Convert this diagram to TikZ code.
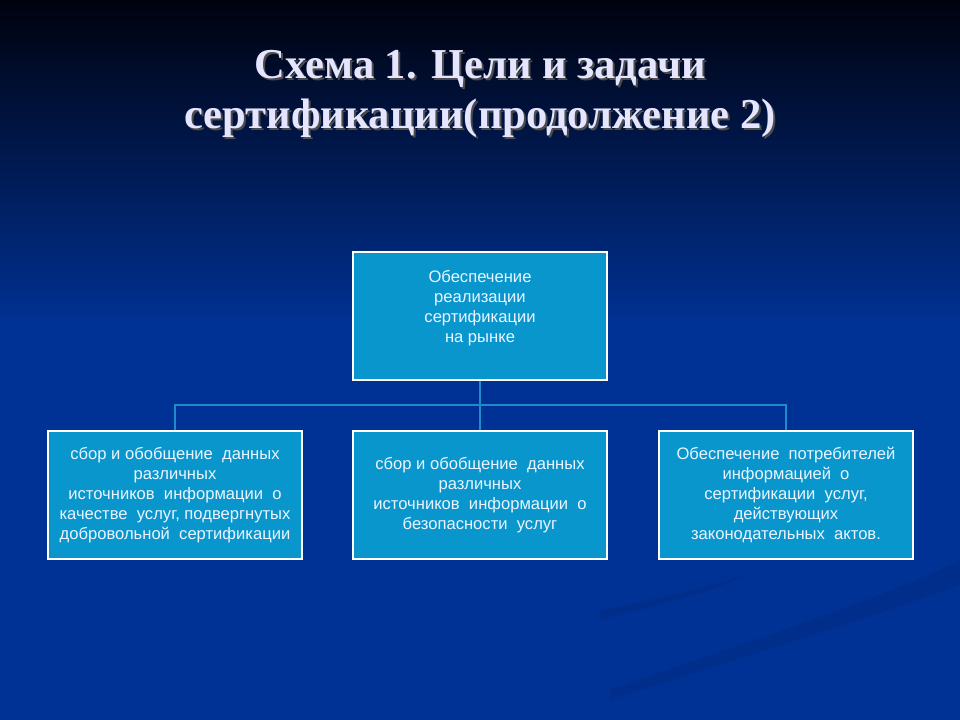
\documentclass[tikz,border=0pt]{standalone}
\usepackage{fontspec}
\setmainfont{Liberation Sans}
\newfontfamily\titlefont{Liberation Serif}
\usepackage{xcolor}
\usetikzlibrary{positioning,calc}

\definecolor{slidetop}{RGB}{0,2,14}
\definecolor{slideblue}{RGB}{0,50,150}
\definecolor{boxfill}{RGB}{8,150,204}
\definecolor{linkblue}{RGB}{30,140,200}
\definecolor{boxtext}{RGB}{235,245,255}

\begin{document}
\begin{tikzpicture}[
            x=0.025cm, y=-0.025cm,
            every node/.style={font=\fontsize{11.8}{14.2}\selectfont},
            goal/.style={draw=white, line width=2pt, fill=boxfill, text=boxtext,
                align=center, minimum width=6.35cm, minimum height=3.2cm, inner sep=0pt},
            link/.style={linkblue, line width=1.5pt},
            heading/.style={font=\titlefont\bfseries\fontsize{30.3}{36}\selectfont, align=center},
        ]
            % background
            \fill[slideblue] (0,0) rectangle (960,720);
            \shade[top color=slidetop, bottom color=slideblue] (0,0) rectangle (960,330);
            \fill[black, opacity=0.08] (600,610) .. controls (700,590) and (760,575) .. (770,560)
                .. controls (740,585) and (680,600) .. (600,620) -- cycle;
            \fill[black, opacity=0.08] (610,690) .. controls (750,640) and (880,600) .. (960,560)
                -- (960,585) .. controls (880,615) and (750,655) .. (610,700) -- cycle;
            \useasboundingbox (0,0) rectangle (960,720);

            % title
            \node[heading, text=black!70] (shadow) at (482,96) {Схема 1. Цели и задачи\\сертификации(продолжение 2)};
            \node[heading, text=white!90!blue] (title) at (480,94) {Схема 1. Цели и задачи\\сертификации(продолжение 2)};

            % boxes
            \node[goal] (main) at (480,316) {Обеспечение\\реализации\\сертификации\\на рынке\\ };
            \node[goal] (quality) at (175,495) {сбор и обобщение~ данных\\различных\\источников~ информации~ о\\качестве~ услуг, подвергнутых\\добровольной~ сертификации};
            \node[goal] (safety) at (480,495) {сбор и обобщение~ данных\\различных\\источников~ информации~ о\\безопасности~ услуг};
            \node[goal] (inform) at (786,495) {Обеспечение~ потребителей\\информацией~ о\\сертификации~ услуг,\\действующих\\законодательных~ актов.};

            % connectors
            \coordinate (bus) at (480,405);
            \draw[link] (main.south) -- (bus);
            \draw[link] (quality.north) |- (bus) -| (inform.north);
            \draw[link] (bus) -- (safety.north);
        \end{tikzpicture}
\end{document}
